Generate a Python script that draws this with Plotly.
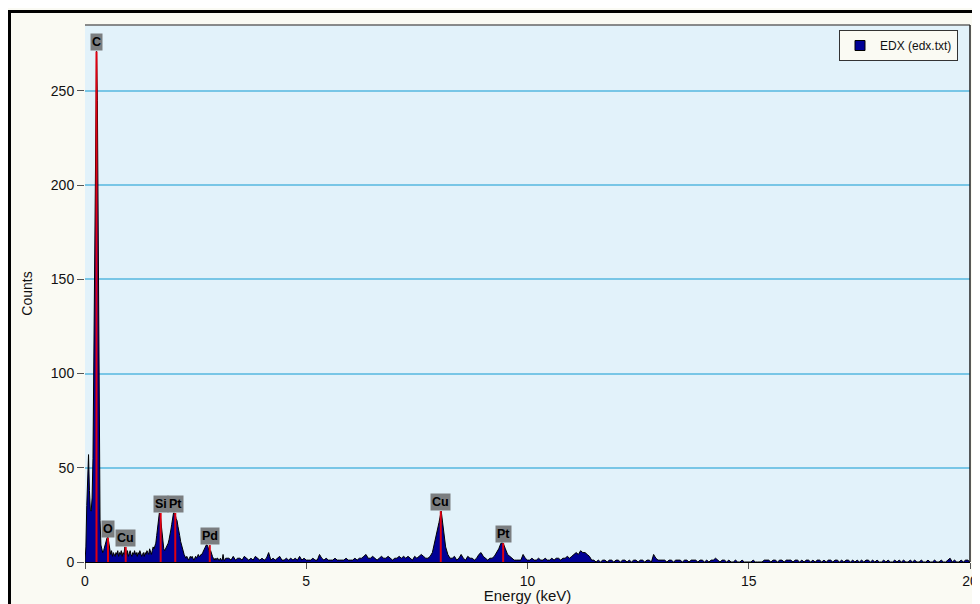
import numpy as np
import plotly.graph_objects as go

# ---- spectrum data ----
energy_lo = np.round(np.arange(0.0, 3.2001, 0.02), 2)   # 0.00 .. 3.20 keV
counts_lo = [
    0, 8, 30, 45, 57, 38, 28, 27, 34, 55,
    110, 190, 250, 271, 245, 160, 70, 22, 9, 6,
    5, 6, 8, 10, 12, 13, 13, 10, 6, 4,
    6, 3, 5, 4, 3, 5, 4, 6, 3, 5,
    4, 6, 3, 5, 4, 8, 7, 4, 6, 3,
    5, 6, 4, 3, 5, 4, 6, 4, 5, 3,
    5, 4, 6, 4, 3, 4, 5, 3, 5, 4,
    6, 5, 4, 7, 5, 4, 6, 8, 7, 9,
    10, 14, 18, 22, 26, 25, 20, 14, 9, 7,
    6, 7, 8, 9, 10, 12, 14, 17, 20, 24,
    26, 26, 25, 23, 22, 19, 17, 14, 11, 9,
    7, 5, 4, 3, 2, 3, 2, 1, 2, 3,
    2, 3, 2, 1, 2, 3, 2, 3, 4, 3,
    3, 4, 4, 5, 6, 7, 8, 9, 9, 8,
    6, 5, 6, 4, 3, 2, 1, 2, 1, 2,
    2, 1, 1, 2, 1, 1, 4, 1, 1, 2,
    2,
]
energy_hi = np.round(np.arange(3.25, 20.0001, 0.05), 2)  # 3.25 .. 20.00 keV
counts_hi = [
    2, 1, 3, 1, 2, 2, 1, 3, 2, 1, 2, 1, 3, 2, 1, 2,
    1, 2, 5, 1, 2, 1, 2, 3, 1, 1, 2, 1, 2, 1, 2, 1, 3, 1, 2, 1,
    1, 1, 2, 1, 1, 4, 2, 1, 2, 1, 1, 1, 2, 1, 1, 1, 1, 2, 1, 1,
    1, 2, 1, 2, 2, 3, 4, 2, 2, 3, 2, 1, 2, 3, 2, 2, 3, 2, 1, 2,
    2, 3, 2, 3, 2, 3, 2, 1, 3, 2, 3, 4, 3, 2, 2, 3, 5, 10, 15, 21,
    27, 16, 8, 4, 2, 2, 3, 1, 2, 4, 2, 1, 3, 2, 2, 1, 2, 4, 5, 3,
    2, 1, 2, 2, 3, 5, 7, 10, 10, 7, 4, 3, 2, 1, 1, 1, 1, 4, 2, 1,
    1, 2, 1, 1, 2, 1, 1, 2, 1, 1, 2, 1, 2, 2, 1, 2, 2, 3, 2, 3,
    4, 5, 4, 6, 5, 5, 4, 3, 1, 1, 0, 1, 0, 1, 1, 0, 1, 1, 0, 1,
    1, 0, 1, 1, 0, 1, 0, 1, 1, 0, 1, 1, 0, 1, 1, 0, 4, 2, 1, 1,
    1, 1, 0, 1, 1, 0, 1, 1, 1, 0, 1, 1, 0, 1, 1, 1, 0, 1, 1, 0,
    1, 0, 1, 1, 2, 1, 0, 1, 1, 0, 1, 0, 0, 1, 0, 0, 1, 0, 0, 0,
    0, 1, 0, 0, 0, 0, 1, 1, 1, 0, 1, 1, 0, 1, 1, 0, 1, 1, 1, 0,
    1, 1, 0, 1, 0, 1, 1, 0, 1, 0, 1, 1, 0, 1, 0, 1, 1, 0, 1, 1,
    0, 1, 0, 1, 1, 0, 1, 0, 1, 0, 1, 0, 1, 1, 0, 1, 0, 1, 0, 0,
    1, 0, 1, 0, 0, 1, 0, 1, 0, 1, 0, 0, 1, 0, 1, 0, 0, 1, 0, 0,
    1, 0, 0, 1, 0, 0, 1, 0, 0, 1, 2, 0, 1, 0, 0, 1, 0, 1, 1, 0,
]

# ---- peak identification markers ----
peak_names = ["C", "O", "Cu", "Si", "Pt", "Pd", "Cu", "Pt"]
peak_energy = [0.26, 0.52, 0.92, 1.71, 2.04, 2.82, 8.04, 9.45]
peak_height = [271, 13, 8, 26, 26, 9, 27, 10]

x_ticks = [0, 5, 10, 15, 20]
y_ticks = [0, 50, 100, 150, 200, 250]

energy = list(energy_lo) + list(energy_hi)
counts = counts_lo + counts_hi

NAVY = "#000096"

fig = go.Figure()
fig.add_trace(go.Scatter(
    x=energy, y=counts, mode="lines", name="EDX (edx.txt)", showlegend=False,
    fill="tozeroy", fillcolor=NAVY,
    line=dict(color="#000000", width=1),
))
# legend entry (square swatch)
fig.add_trace(go.Scatter(
    x=[None], y=[None], mode="markers", name="EDX (edx.txt)",
    marker=dict(symbol="square", size=10, color=NAVY, line=dict(color="#000000", width=1)),
))

# red marker lines
lx, ly = [], []
for e, h in zip(peak_energy, peak_height):
    lx += [e, e, None]
    ly += [0, h, None]
fig.add_trace(go.Scatter(x=lx, y=ly, mode="lines", showlegend=False,
                         line=dict(color="#E00010", width=2), hoverinfo="skip"))

for n, e, h in zip(peak_names, peak_energy, peak_height):
    fig.add_annotation(x=e, y=h, text="<b>%s</b>" % n, showarrow=False,
                       yanchor="bottom", xanchor="center",
                       bgcolor="#7b7e80", borderpad=1,
                       font=dict(family="Liberation Sans", size=12.5, color="#000000"))

# page has an 8px body margin: figure coords = page coords - 8
OFF = 8
W, H = 980 - OFF, 604 - OFF
L, T = 85 - OFF, 25 - OFF
R = W - (970 - OFF)
B = H - (562 - OFF)
pw, ph = W - L - R, H - T - B

def px(xp):  # page x -> paper x
    return (xp - OFF - L) / pw

def py(yp):  # page y -> paper y
    return (H - B - (yp - OFF)) / ph

shapes = [
    # black frame
    dict(type="rect", xref="paper", yref="paper", x0=px(9.5), x1=px(1100), y0=py(700), y1=py(11.5),
         line=dict(color="#000000", width=3), layer="above"),
    # top and right plot edges
    dict(type="line", xref="paper", yref="paper", x0=0, x1=1, y0=1, y1=1,
         line=dict(color="#666666", width=1.5), layer="above"),
    dict(type="line", xref="paper", yref="paper", x0=1, x1=1, y0=0, y1=1,
         line=dict(color="#222222", width=1.5), layer="above"),
]

fig.update_layout(
    width=W, height=H,
    margin=dict(l=L, r=R, t=T, b=B),
    paper_bgcolor="#FAFAF3", plot_bgcolor="#E2F2FA",
    font=dict(family="Liberation Sans", size=14, color="#111111"),
    shapes=shapes,
    showlegend=True,
    legend=dict(x=px(958), y=py(30), xanchor="right", yanchor="top",
                bgcolor="#FAFAF3", bordercolor="#333333", borderwidth=1,
                font=dict(size=12), itemwidth=30, tracegroupgap=0),
    xaxis=dict(range=[0, 20], tickvals=x_ticks, ticks="outside", ticklen=6,
               tickcolor="#555555", showgrid=False, zeroline=False,
               showline=True, linecolor="#000000", linewidth=1, automargin=False,
               ticklabelstandoff=0,
               title=dict(text="Energy (keV)", font=dict(size=15), standoff=0),
               tickfont=dict(size=14)),
    yaxis=dict(range=[0, 285], tickvals=y_ticks, ticks="outside", ticklen=7,
               tickcolor="#555555", showgrid=True, gridcolor="#78C6E6", gridwidth=2,
               zeroline=False, showline=False, automargin=False,
               title=dict(text="Counts", font=dict(size=14), standoff=14),
               tickfont=dict(size=14)),
)

fig.write_html("out.html")
